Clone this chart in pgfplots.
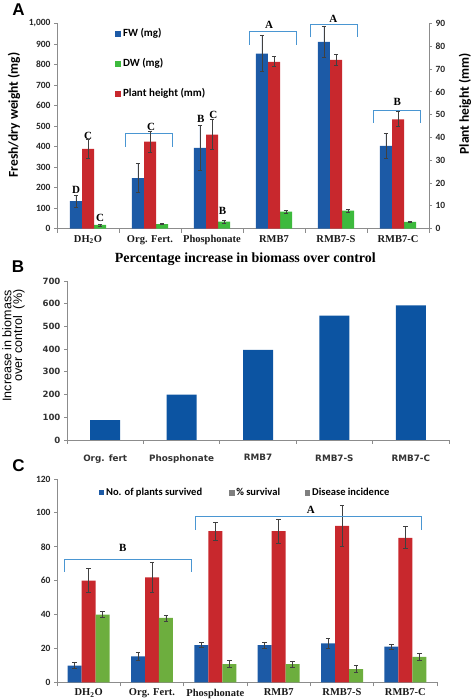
\documentclass[border=0pt]{standalone}
\usepackage{fontspec}
\setmainfont{Liberation Serif}
\newfontfamily\calfont{Carlito}
\newfontfamily\arialf{Liberation Sans}
\newfontfamily\verdf{DejaVu Sans}
\usepackage{pgfplots}
\pgfplotsset{compat=1.18}
\definecolor{cblue}{HTML}{1C5AA6}
\definecolor{cred}{HTML}{C8282D}
\definecolor{cgreenA}{HTML}{3DBA3D}
\definecolor{cgreenC}{HTML}{6DAE3E}
\definecolor{bblue}{HTML}{0C54A2}
\definecolor{brk}{HTML}{4A96D2}
\definecolor{axgray}{HTML}{8C8C8C}
\definecolor{leggray}{HTML}{7F7F7F}
\pgfplotsset{
  common/.style={scale only axis, anchor=south west, clip=false,
    axis line style={draw=axgray, line width=0.8pt},
    tick style={draw=axgray, line width=0.8pt},
    tick align=outside, major tick length=3pt, minor tick length=4pt,
    major x tick style={draw=none},
    /pgf/number format/assume math mode=true,
    yticklabel style={font=\calfont\bfseries\fontsize{9.5}{10}\selectfont, text=black!85},
    xticklabel style={font=\bfseries\fontsize{10.5}{11}\selectfont, text=black!90},
  },
  errbar/.style={error bars/.cd, y dir=both, y explicit,
    error bar style={draw=black!75, line width=0.7pt},
    error mark options={rotate=90, draw=black!75, mark size=2.2pt, line width=0.7pt}},
}
\newcommand{\lbl}{\bfseries\fontsize{11}{11}\selectfont}
\begin{document}
\begin{tikzpicture}
\path[use as bounding box] (0,0) rectangle (472pt,700pt);

% ---------------- Panel A ----------------
% bar groups: FW at category-0.194, plant height at category, DW at category+0.194
\begin{axis}[common, at={(57pt,471.3pt)}, width=372pt, height=205.2pt,
  xmin=-0.5, xmax=5.5, ymin=0, ymax=1000, ytick={0,100,...,1000},
  axis y line*=left, axis x line*=bottom,
  xtick={0,...,5},
  xticklabels={DH\textsubscript{2}O, Org. Fert., Phosphonate, RMB7, RMB7-S, RMB7-C},
  minor xtick={-0.5,0.5,...,5.5}]
\addplot[ybar, bar width=12pt, bar shift=0pt, fill=cblue, draw=none, errbar]
  coordinates {(-0.194,134) +- (0,28) (0.806,246) +- (0,70) (1.806,394) +- (0,110) (2.806,853) +- (0,88) (3.806,910) +- (0,76) (4.806,404) +- (0,62)};
\addplot[ybar, bar width=12pt, bar shift=0pt, fill=cgreenA, draw=none, errbar]
  coordinates {(0.194,18) +- (0,5) (1.194,22) +- (0,3) (2.194,34) +- (0,9) (3.194,83) +- (0,7) (4.194,88) +- (0,6) (5.194,33) +- (0,4)};
% brackets
\draw[brk, line width=0.9pt] (axis cs:0.6,399) -- (axis cs:0.6,466) -- (axis cs:1.36,466) -- (axis cs:1.36,399);
\draw[brk, line width=0.9pt] (axis cs:2.6,897) -- (axis cs:2.6,959) -- (axis cs:3.36,959) -- (axis cs:3.36,897);
\draw[brk, line width=0.9pt] (axis cs:3.58,932) -- (axis cs:3.58,993) -- (axis cs:4.34,993) -- (axis cs:4.34,932);
\draw[brk, line width=0.9pt] (axis cs:4.6,516) -- (axis cs:4.6,578) -- (axis cs:5.36,578) -- (axis cs:5.36,516);
% letters
\node[font=\lbl] at (axis cs:-0.194,189) {D};
\node[font=\lbl] at (axis cs:0,453) {C};
\node[font=\lbl] at (axis cs:0.194,51) {C};
\node[font=\lbl] at (axis cs:1.016,498) {C};
\node[font=\lbl] at (axis cs:1.818,534) {B};
\node[font=\lbl] at (axis cs:2.02,555) {C};
\node[font=\lbl] at (axis cs:2.17,86) {B};
\node[font=\lbl] at (axis cs:2.92,995) {A};
\node[font=\lbl] at (axis cs:3.956,1023) {A};
\node[font=\lbl] at (axis cs:4.99,620) {B};
% legend
\node[anchor=west, inner sep=0pt, font=\calfont\bfseries\fontsize{11}{11}\selectfont] at (axis cs:0.435,951) {\textcolor{cblue}{\rule{6pt}{6pt}}\,FW (mg)};
\node[anchor=west, inner sep=0pt, font=\calfont\bfseries\fontsize{11}{11}\selectfont] at (axis cs:0.435,805) {\textcolor{cgreenA}{\rule{6pt}{6pt}}\,DW (mg)};
\node[anchor=west, inner sep=0pt, font=\calfont\bfseries\fontsize{11}{11}\selectfont] at (axis cs:0.435,658) {\textcolor{cred}{\rule{6pt}{6pt}}\,Plant height (mm)};
% y label
\node[rotate=90, font=\calfont\bfseries\fontsize{13.5}{14}\selectfont] at (axis description cs:-0.1156,0.554) {Fresh/dry weight (mg)};
\end{axis}
\begin{axis}[common, at={(57pt,471.3pt)}, width=372pt, height=205.2pt,
  xmin=-0.5, xmax=5.5, ymin=0, ymax=90, ytick={0,10,...,90},
  axis y line*=right, axis x line=none]
\addplot[ybar, bar width=12pt, bar shift=0pt, fill=cred, draw=none, errbar]
  coordinates {(0,35) +- (0,4) (1,38.2) +- (0,4.5) (2,41.3) +- (0,6.5) (3,73.2) +- (0,2.2) (4,74) +- (0,2.5) (5,48) +- (0,3.3)};
\node[rotate=90, font=\calfont\bfseries\fontsize{13.5}{14}\selectfont] at (axis description cs:1.097,0.608) {Plant height (mm)};
\end{axis}
\node[font=\arialf\bfseries\fontsize{17}{17}\selectfont] at (18.5pt,690.5pt) {A};

% ---------------- Panel B ----------------
\begin{axis}[common, at={(67pt,260pt)}, width=382pt, height=159pt,
  xmin=-0.5, xmax=4.5, ymin=0, ymax=700, ytick={0,100,...,700},
  axis y line*=left, axis x line*=bottom,
  yticklabel style={font=\verdf\bfseries\fontsize{8.6}{9}\selectfont, text=black!80},
  xticklabel style={font=\verdf\bfseries\fontsize{8.8}{9}\selectfont, text=black!80, yshift=-8pt},
  xtick={0,...,4},
  xticklabels={Org. fert, Phosphonate, RMB7, RMB7-S, RMB7-C},
  minor xtick={-0.5,0.5,...,4.5}]
\addplot[ybar, bar width=30pt, bar shift=0pt, fill=bblue, draw=none]
  coordinates {(0,88) (1,200) (2,397) (3,548) (4,593)};
\node[font=\bfseries\fontsize{14}{14}\selectfont] at (axis description cs:0.467,1.135) {Percentage increase in biomass over control};
\node[rotate=90, font=\arialf\fontsize{12.5}{13}\selectfont] at (axis description cs:-0.157,0.591) {Increase in biomass};
\node[rotate=90, font=\arialf\fontsize{12.5}{13}\selectfont] at (axis description cs:-0.1257,0.657) {over control\ \ (\%)};
\end{axis}
\node[font=\arialf\bfseries\fontsize{17}{17}\selectfont] at (18pt,433.5pt) {B};

% ---------------- Panel C ----------------
% bar groups: survived at category-0.221, % survival at category, disease at category+0.221
\begin{axis}[common, at={(57pt,17.7pt)}, width=380pt, height=203.3pt,
  xmin=-0.5, xmax=5.5, ymin=0, ymax=120, ytick={0,20,...,120},
  axis y line*=left, axis x line*=bottom,
  xtick={0,...,5},
  xticklabels={DH\textsubscript{2}O, Org. Fert., Phosphonate, RMB7, RMB7-S, RMB7-C},
  minor xtick={-0.5,0.5,...,5.5}]
\addplot[ybar, bar width=14pt, bar shift=0pt, fill=cblue, draw=none, errbar]
  coordinates {(-0.221,9.8) +- (0,1.8) (0.779,15.3) +- (0,2.3) (1.779,22) +- (0,1.5) (2.779,22) +- (0,1.7) (3.779,23) +- (0,2.7) (4.779,21) +- (0,1.5)};
\addplot[ybar, bar width=14pt, bar shift=0pt, fill=cred, draw=none, errbar]
  coordinates {(0,60) +- (0,7) (1,62) +- (0,9) (2,89.3) +- (0,5.3) (3,89.2) +- (0,7) (4,92.3) +- (0,12) (5,85.3) +- (0,6.5)};
\addplot[ybar, bar width=14pt, bar shift=0pt, fill=cgreenC, draw=none, errbar]
  coordinates {(0.221,40) +- (0,1.8) (1.221,38) +- (0,1.8) (2.221,10.8) +- (0,2) (3.221,10.8) +- (0,1.8) (4.221,7.8) +- (0,2) (5.221,15) +- (0,2)};
\draw[brk, line width=0.9pt] (axis cs:-0.39,65.3) -- (axis cs:-0.39,72.6) -- (axis cs:1.63,72.6) -- (axis cs:1.63,65.3);
\draw[brk, line width=0.9pt] (axis cs:1.68,90) -- (axis cs:1.68,97.8) -- (axis cs:5.25,97.8) -- (axis cs:5.25,90);
\node[font=\lbl] at (axis cs:0.54,79.5) {B};
\node[font=\lbl] at (axis cs:3.51,101.7) {A};
\node[anchor=west, inner sep=0pt, font=\calfont\bfseries\fontsize{10.5}{10.5}\selectfont] at (axis cs:0.158,112.2) {\textcolor{cblue}{\rule{5.5pt}{5.5pt}}\,No. of plants survived};
\node[anchor=west, inner sep=0pt, font=\calfont\bfseries\fontsize{10.5}{10.5}\selectfont] at (axis cs:2.213,112.2) {\textcolor{leggray}{\rule{5.5pt}{5.5pt}}\,\% survival};
\node[anchor=west, inner sep=0pt, font=\calfont\bfseries\fontsize{10.5}{10.5}\selectfont] at (axis cs:3.412,112.2) {\textcolor{leggray}{\rule{5.5pt}{5.5pt}}\,Disease incidence};
\end{axis}
\node[font=\arialf\bfseries\fontsize{17}{17}\selectfont] at (18.5pt,234pt) {C};
\end{tikzpicture}
\end{document}
